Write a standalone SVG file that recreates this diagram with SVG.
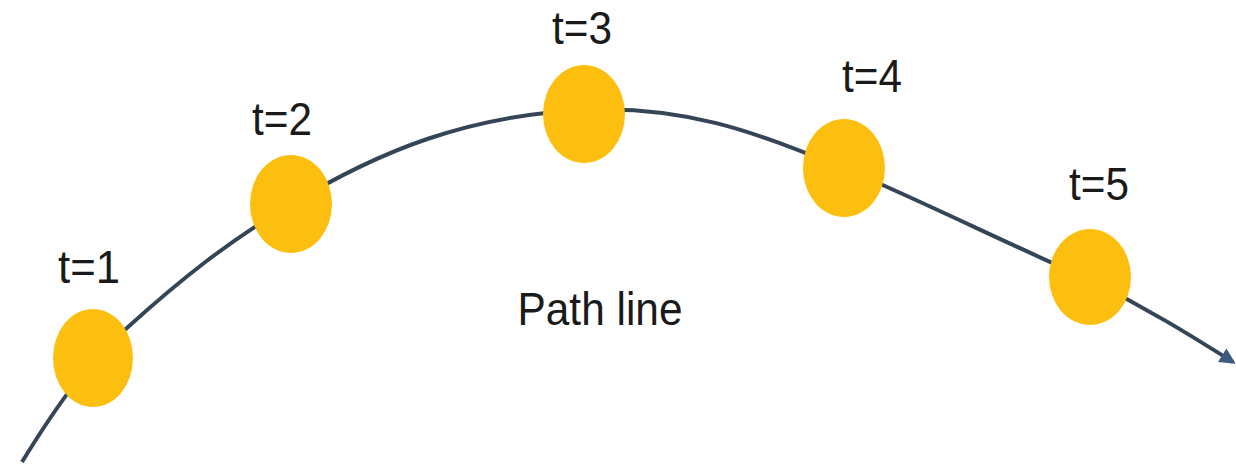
<svg xmlns="http://www.w3.org/2000/svg" width="1236" height="464" viewBox="0 0 1236 464">
<style>
.node{fill:#fdbf0f;}
.lbl{font-family:"Liberation Sans",Arial,sans-serif;font-size:46px;fill:#1a1a1a;text-anchor:middle;}
.conn{fill:none;stroke:#354558;stroke-width:4;}
</style>
<defs>
<marker id="arr" viewBox="0 0 10 10" refX="8" refY="5" markerWidth="4" markerHeight="4" orient="auto" markerUnits="strokeWidth">
<path d="M0,0 L10,5 L0,10 z" fill="#3d5a80"/>
</marker>
</defs>
<rect width="1236" height="464" fill="#ffffff"/>
<g id="connectors">
<path class="conn" marker-end="url(#arr)" d="M22,462 C60,400 90,360 128,327 C180,280 230,240 290,205 C380,150 470,115 584,110 C690,105 760,135 844,168 C930,205 1000,240 1090,280 C1150,310 1190,335 1233,362"/>
</g>
<g id="node-t1"><ellipse class="node" cx="93" cy="358" rx="40" ry="49"/><text class="lbl" x="89" y="283" textLength="62" lengthAdjust="spacingAndGlyphs">t=1</text></g>
<g id="node-t2"><ellipse class="node" cx="291" cy="204" rx="41" ry="49"/><text class="lbl" x="282" y="135" textLength="60" lengthAdjust="spacingAndGlyphs">t=2</text></g>
<g id="node-t3"><ellipse class="node" cx="584" cy="114" rx="41" ry="49"/><text class="lbl" x="582" y="44" textLength="60" lengthAdjust="spacingAndGlyphs">t=3</text></g>
<g id="node-t4"><ellipse class="node" cx="844" cy="168" rx="41" ry="49"/><text class="lbl" x="872" y="92" textLength="60" lengthAdjust="spacingAndGlyphs">t=4</text></g>
<g id="node-t5"><ellipse class="node" cx="1090" cy="277" rx="41" ry="48"/><text class="lbl" x="1099" y="200" textLength="60" lengthAdjust="spacingAndGlyphs">t=5</text></g>
<text class="lbl" x="600" y="325" textLength="165" lengthAdjust="spacingAndGlyphs">Path line</text>
</svg>
